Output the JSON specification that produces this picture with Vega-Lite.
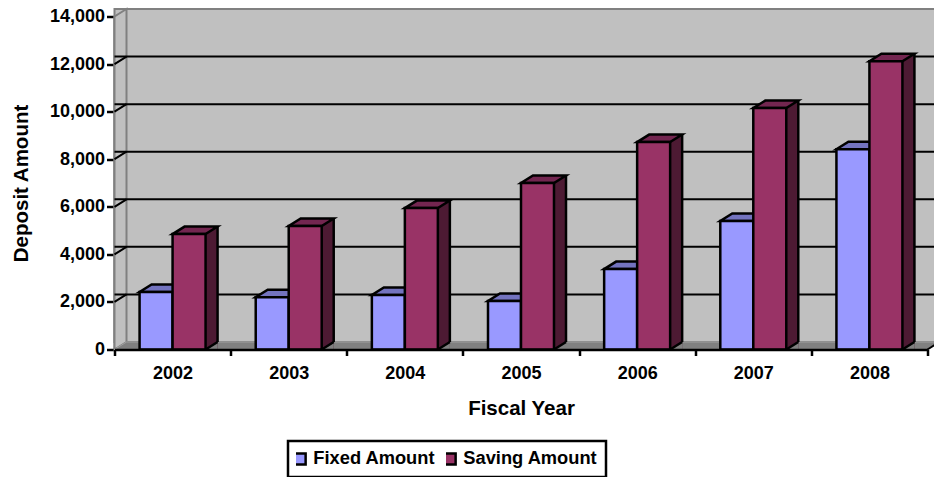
{
  "$schema": "https://vega.github.io/schema/vega-lite/v6.json",
  "width": 813,
  "height": 333,
  "autosize": "none",
  "padding": {"left": 114.5, "top": 16.5, "right": 6.5, "bottom": 127.5},
  "background": "white",
  "config": {
    "view": {"stroke": null},
    "font": "Liberation Sans",
    "axis": {"labelFont": "Liberation Sans", "titleFont": "Liberation Sans", "labelFontWeight": "bold", "titleFontWeight": "bold", "labelColor": "black", "titleColor": "black", "labelFontSize": 18, "titleFontSize": 20.5, "domainColor": "black", "tickColor": "black", "domainWidth": 2.5, "tickWidth": 2.5},
    "legend": {"strokeColor": "black", "strokeWidth": 2.5, "fillColor": "white"}
  },
  "datasets": {
    "deposits": [
      {"year": "2002", "series": "Fixed Amount", "amount": 2416},
      {"year": "2002", "series": "Saving Amount", "amount": 4853},
      {"year": "2003", "series": "Fixed Amount", "amount": 2200},
      {"year": "2003", "series": "Saving Amount", "amount": 5190},
      {"year": "2004", "series": "Fixed Amount", "amount": 2290},
      {"year": "2004", "series": "Saving Amount", "amount": 5945},
      {"year": "2005", "series": "Fixed Amount", "amount": 2040},
      {"year": "2005", "series": "Saving Amount", "amount": 7000},
      {"year": "2006", "series": "Fixed Amount", "amount": 3380},
      {"year": "2006", "series": "Saving Amount", "amount": 8720},
      {"year": "2007", "series": "Fixed Amount", "amount": 5400},
      {"year": "2007", "series": "Saving Amount", "amount": 10150},
      {"year": "2008", "series": "Fixed Amount", "amount": 8420},
      {"year": "2008", "series": "Saving Amount", "amount": 12120}
    ],
    "gridValues": [
      {"year": "2002", "v": 2000}, {"year": "2002", "v": 4000}, {"year": "2002", "v": 6000},
      {"year": "2002", "v": 8000}, {"year": "2002", "v": 10000}, {"year": "2002", "v": 12000}
    ],
    "walls": [{"year": "2002", "base": 0, "top": 14000}]
  },
  "layer": [
    {
      "description": "back wall",
      "data": {"name": "walls"},
      "mark": {"type": "rect", "fill": "#c0c0c0", "stroke": "#808080", "strokeWidth": 2, "xOffset": 12, "x2Offset": 12, "yOffset": -7.5, "y2Offset": -7.5},
      "encoding": {
        "y": {"field": "base", "type": "quantitative", "scale": {"domain": [0, 14000]}, "axis": {"title": "Deposit Amount", "values": [0, 2000, 4000, 6000, 8000, 10000, 12000, 14000], "labelExpr": "format(datum.value, ',')", "tickSize": 8, "labelPadding": 2, "titlePadding": 18, "grid": false}},
        "y2": {"field": "top"}
      }
    },
    {
      "description": "side wall",
      "data": {"name": "walls"},
      "mark": {"type": "point", "filled": true, "opacity": 1, "fill": "#c0c0c0", "stroke": "#808080", "strokeWidth": 2, "size": 4, "shape": "M0,0L12,-7.5L12,-340.5L0,-333Z"},
      "encoding": {
        "x": {"field": "year", "type": "nominal", "bandPosition": 0},
        "y": {"field": "base", "type": "quantitative"}
      }
    },
    {
      "description": "floor",
      "data": {"name": "walls"},
      "mark": {"type": "point", "filled": true, "opacity": 1, "fill": "#808080", "stroke": "#a0a0a0", "strokeWidth": 1, "size": 4, "shape": "M0,0L12,-7.5L825,-7.5L813,0Z"},
      "encoding": {
        "x": {"field": "year", "type": "nominal", "bandPosition": 0},
        "y": {"field": "base", "type": "quantitative"}
      }
    },
    {
      "description": "floor corner edges",
      "data": {"name": "walls"},
      "mark": {"type": "point", "filled": false, "opacity": 1, "stroke": "black", "strokeWidth": 2, "size": 4, "shape": "M813,0L825,-7.5"},
      "encoding": {
        "x": {"field": "year", "type": "nominal", "bandPosition": 0},
        "y": {"field": "base", "type": "quantitative"}
      }
    },
    {
      "description": "gridlines on the back wall",
      "data": {"name": "gridValues"},
      "mark": {"type": "rule", "color": "black", "strokeWidth": 2, "xOffset": 12, "x2Offset": 12, "yOffset": -7.5},
      "encoding": {"y": {"field": "v", "type": "quantitative"}}
    },
    {
      "description": "gridlines on the side wall",
      "data": {"name": "gridValues"},
      "mark": {"type": "point", "filled": false, "opacity": 1, "stroke": "black", "strokeWidth": 2, "size": 4, "shape": "M0,0L12,-7.5"},
      "encoding": {
        "x": {"field": "year", "type": "nominal", "bandPosition": 0},
        "y": {"field": "v", "type": "quantitative"}
      }
    },
    {
      "description": "side faces of the taller bars",
      "data": {"name": "deposits"},
      "transform": [{"filter": "datum.series === 'Saving Amount'"}],
      "mark": {"type": "rule", "strokeWidth": 12, "color": "#4d1a33", "xOffset": 39, "yOffset": -7.5, "y2Offset": 0},
      "encoding": {
        "x": {"field": "year", "type": "nominal", "scale": {"paddingInner": 0, "paddingOuter": 0}, "axis": {"title": "Fiscal Year", "labelAngle": 0, "labelAlign": "center", "tickBand": "extent", "tickSize": 6, "labelPadding": 18, "titlePadding": 16, "zindex": 2}},
        "y": {"field": "amount", "type": "quantitative"},
        "y2": {"datum": 0}
      }
    },
    {
      "description": "floor patch under each side face",
      "data": {"name": "deposits"},
      "mark": {"type": "point", "filled": true, "opacity": 1, "fill": "#808080", "strokeWidth": 0, "size": 4, "shape": "M16.5,0L28.5,-7.5L28.5,0Z"},
      "encoding": {
        "x": {"field": "year", "type": "nominal"},
        "xOffset": {"field": "series", "scale": {"paddingInner": 0, "paddingOuter": 0.76}},
        "y": {"datum": 0, "type": "quantitative"}
      }
    },
    {
      "description": "side face right edge",
      "data": {"name": "deposits"},
      "transform": [{"filter": "datum.series === 'Saving Amount'"}],
      "mark": {"type": "rule", "color": "black", "strokeWidth": 2.5, "xOffset": 45, "yOffset": -7.5, "y2Offset": -7.5},
      "encoding": {
        "x": {"field": "year", "type": "nominal"},
        "y": {"field": "amount", "type": "quantitative"},
        "y2": {"datum": 0}
      }
    },
    {
      "description": "side face bottom edge",
      "data": {"name": "deposits"},
      "mark": {"type": "point", "filled": false, "opacity": 1, "stroke": "black", "strokeWidth": 2.5, "size": 4, "shape": "M16.5,0L28.5,-7.5"},
      "encoding": {
        "x": {"field": "year", "type": "nominal"},
        "xOffset": {"field": "series"},
        "y": {"datum": 0, "type": "quantitative"}
      }
    },
    {
      "description": "bar top faces",
      "data": {"name": "deposits"},
      "mark": {"type": "point", "filled": true, "opacity": 1, "stroke": "black", "strokeWidth": 2.5, "size": 4, "shape": "M-16.5,0L16.5,0L28.5,-7.5L-4.5,-7.5Z"},
      "encoding": {
        "x": {"field": "year", "type": "nominal"},
        "xOffset": {"field": "series"},
        "y": {"field": "amount", "type": "quantitative"},
        "fill": {"field": "series", "legend": null, "scale": {"range": ["#7373bf", "#732650"]}}
      }
    },
    {
      "description": "bar front faces",
      "data": {"name": "deposits"},
      "mark": {"type": "bar", "stroke": "black", "strokeWidth": 2.5},
      "encoding": {
        "x": {"field": "year", "type": "nominal"},
        "xOffset": {"field": "series"},
        "y": {"field": "amount", "type": "quantitative"},
        "color": {
          "field": "series",
          "scale": {"range": ["#9999ff", "#993366"]},
          "legend": {"title": null, "orient": "none", "legendX": 173.5, "legendY": 424.5, "direction": "horizontal", "columns": 2, "symbolType": "square", "symbolSize": 120, "symbolStrokeColor": "black", "symbolStrokeWidth": 2.5, "symbolOpacity": 1, "symbolOffset": -5, "labelFont": "Liberation Sans", "labelFontWeight": "bold", "labelFontSize": 18.3, "labelColor": "black", "labelLimit": 200, "labelOffset": 4, "columnPadding": 10, "clipHeight": 20, "padding": 8}
        }
      }
    }
  ]
}
